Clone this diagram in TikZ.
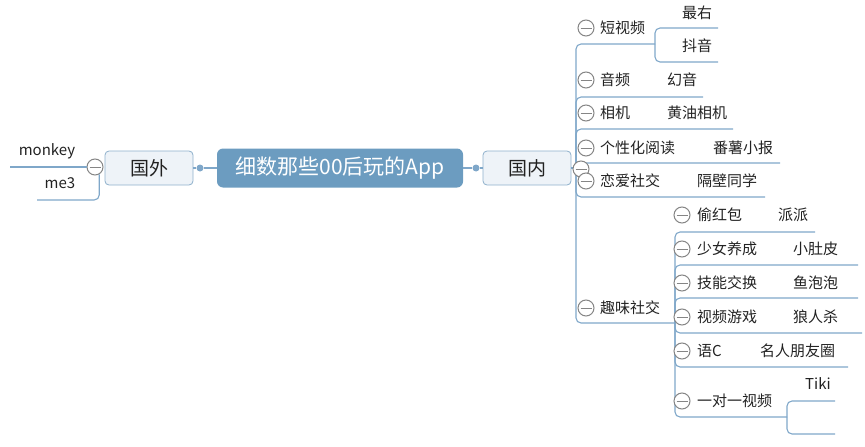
\documentclass[tikz,border=0pt]{standalone}
\usepackage{fontspec}
\setmainfont{Noto Sans CJK SC}
\usetikzlibrary{positioning}
\definecolor{ink}{HTML}{222222}
\definecolor{linkblue}{HTML}{7FA7C9}
\definecolor{rootfill}{HTML}{6C9CC0}
\definecolor{boxfill}{HTML}{EEF3F8}
\definecolor{boxline}{HTML}{8EB0CB}
\definecolor{foldgray}{HTML}{858585}

\begin{document}
\begin{tikzpicture}[x=1pt, y=-1pt,
    link/.style={draw=linkblue, line width=1.1pt, rounded corners=5pt},
    rootbox/.style={fill=rootfill, rounded corners=6pt, text=white,
                    minimum width=246pt, minimum height=39pt,
                    font=\fontsize{21}{24}\selectfont},
    mainbox/.style={draw=boxline, fill=boxfill, line width=0.8pt, rounded corners=4pt,
                    minimum width=88pt, minimum height=34pt, text=ink,
                    font=\fontsize{19}{22}\selectfont},
    topic/.style={anchor=base west, inner sep=0pt, text=ink,
                  font=\fontsize{15}{18}\selectfont},
    fold/.style={circle, draw=foldgray, fill=white, line width=1pt,
                 minimum size=16pt, inner sep=0pt,
                 path picture={\draw[foldgray, line width=1pt]
                   ([xshift=-5.5pt]path picture bounding box.center) --
                   ([xshift=5.5pt]path picture bounding box.center);}},
    joint/.style={circle, fill=linkblue, minimum size=7pt, inner sep=0pt},
  ]
  \useasboundingbox (0,0) rectangle (865,447);

  % centre and the two main branches
  \node[rootbox] (app) at (340,168) {细数那些00后玩的App};
  \node[mainbox] (guowai) at (149,168) {国外};
  \node[mainbox] (guonei) at (527,168) {国内};
  \node[joint] (jl) at (200,168) {};
  \node[joint] (jr) at (476,168) {};
  \draw[link] (app) -- (jl) -- (guowai);
  \draw[link] (app) -- (jr) -- (guonei);

  % left side
  \node[fold] (fguowai) at (95,167) {};
  \coordinate (monkey-end) at (10,167);
  \coordinate (me3-end) at (37,200);
  \draw[link] (fguowai.west) -- (monkey-end);
  \draw[link] (fguowai.-60) |- (me3-end);
  \node[topic, anchor=base] (monkey) at (47,155) {monkey};
  \node[topic, anchor=base] (me3) at (60,188) {me3};

  % right side: lines
  \coordinate (hub) at (576,168);
  \coordinate (duan-hub) at (655,44);
  \coordinate (zuiyou-end) at (718,28);
  \coordinate (douyin-end) at (718,62);
  \coordinate (yinpin-end) at (703,97);
  \coordinate (xiangji-end) at (733,129);
  \coordinate (yuedu-end) at (780,163);
  \coordinate (lianai-end) at (765,197);
  \coordinate (quwei-hub) at (675,323);
  \coordinate (touhongbao-end) at (815,232);
  \coordinate (shaonv-end) at (858,265);
  \coordinate (jineng-end) at (858,298);
  \coordinate (youxi-end) at (862,333);
  \coordinate (yuc-end) at (848,367);
  \coordinate (yiduiyi-hub) at (787,417);
  \coordinate (tiki-end) at (835,401);
  \coordinate (hidden-end) at (835,434);

  \draw[link] (guonei.east) -- (hub);
  \draw[link] (hub) |- (duan-hub);
  \draw[link] (duan-hub) |- (zuiyou-end);
  \draw[link] (duan-hub) |- (douyin-end);
  \draw[link] (hub) |- (yinpin-end);
  \draw[link] (hub) |- (xiangji-end);
  \draw[link] (hub) |- (yuedu-end);
  \draw[link] (hub) |- (lianai-end);
  \draw[link] (hub) |- (quwei-hub);
  \draw[link] (quwei-hub) |- (touhongbao-end);
  \draw[link] (quwei-hub) |- (shaonv-end);
  \draw[link] (quwei-hub) |- (jineng-end);
  \draw[link] (quwei-hub) |- (youxi-end);
  \draw[link] (quwei-hub) |- (yuc-end);
  \draw[link] (quwei-hub) |- (yiduiyi-hub);
  \draw[link] (yiduiyi-hub) |- (tiki-end);
  \draw[link] (yiduiyi-hub) |- (hidden-end);

  % right side: fold buttons
  \node[fold] (fguonei) at (581,169) {};
  \node[fold] (fduan) at (586,28) {};
  \node[fold] (fyinpin) at (586,80) {};
  \node[fold] (fxiangji) at (586,113) {};
  \node[fold] (fyuedu) at (586,148) {};
  \node[fold] (flianai) at (586,181) {};
  \node[fold] (fquwei) at (586,308) {};
  \node[fold] (ftouhongbao) at (682,215) {};
  \node[fold] (fshaonv) at (682,249) {};
  \node[fold] (fjineng) at (682,283) {};
  \node[fold] (fyouxi) at (682,317) {};
  \node[fold] (fyuc) at (682,351) {};
  \node[fold] (fyiduiyi) at (682,401) {};

  % right side: texts
  \node[topic] (duan) at (600,33.5) {短视频};
  \node[topic] (zuiyou) at (682,18.5) {最右};
  \node[topic] (douyin) at (682,51.5) {抖音};
  \node[topic] (yinpin) at (600,85.5) {音频};
  \node[topic] (huanyin) at (667,85.5) {幻音};
  \node[topic] (xiangji) at (600,118.5) {相机};
  \node[topic] (huangyou) at (667,118.5) {黄油相机};
  \node[topic] (yuedu) at (600,153.5) {个性化阅读};
  \node[topic] (fanshu) at (713,153.5) {番薯小报};
  \node[topic] (lianai) at (600,186.5) {恋爱社交};
  \node[topic] (gebi) at (697,186.5) {隔壁同学};
  \node[topic] (quwei) at (600,313.5) {趣味社交};
  \node[topic] (touhongbao) at (697,220.5) {偷红包};
  \node[topic] (paipai) at (778,220.5) {派派};
  \node[topic] (shaonv) at (697,254.5) {少女养成};
  \node[topic] (xiaodupi) at (793,254.5) {小肚皮};
  \node[topic] (jineng) at (697,288.5) {技能交换};
  \node[topic] (yupaopao) at (793,288.5) {鱼泡泡};
  \node[topic] (youxi) at (697,322.5) {视频游戏};
  \node[topic] (langrensha) at (793,322.5) {狼人杀};
  \node[topic] (yuc) at (697,356.5) {语C};
  \node[topic] (pengyouquan) at (760,356.5) {名人朋友圈};
  \node[topic] (yiduiyi) at (697,406.5) {一对一视频};
  \node[topic] (tiki) at (805,389) {Tiki};
\end{tikzpicture}
\end{document}
